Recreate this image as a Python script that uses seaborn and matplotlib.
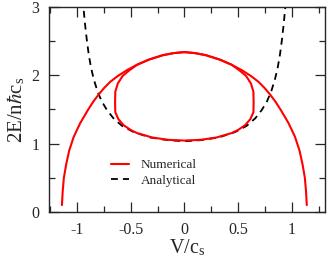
import matplotlib
matplotlib.use("Agg")
import matplotlib.pyplot as plt
from matplotlib.ticker import MultipleLocator
from matplotlib.lines import Line2D
import pandas as pd
import seaborn as sns

# numerical result: outer branch (V/c_s, 2E/nhc_s)
outer_v = [-1.14, -1.133, -1.122, -1.10, -1.072, -1.03, -0.97, -0.895, -0.85, -0.80, -0.75, -0.69, -0.62,
           -0.535, -0.44, -0.33, -0.2, -0.1, 0.0,
           0.1, 0.2, 0.33, 0.44, 0.535, 0.62, 0.69, 0.75, 0.80, 0.85, 0.895, 0.97, 1.03, 1.072, 1.10,
           1.122, 1.133, 1.14]
outer_e = [0.1, 0.3, 0.5, 0.7, 0.9, 1.1, 1.3, 1.5, 1.61, 1.715, 1.81, 1.905, 1.99,
           2.075, 2.155, 2.23, 2.295, 2.325, 2.34,
           2.325, 2.295, 2.23, 2.155, 2.075, 1.99, 1.905, 1.81, 1.715, 1.61, 1.5, 1.3, 1.1, 0.9, 0.7,
           0.5, 0.3, 0.1]

# numerical result: inner closed loop
loop_v = [0.0, -0.1, -0.2, -0.33, -0.44, -0.515, -0.575, -0.62, -0.643, -0.645, -0.643, -0.615, -0.566,
          -0.5, -0.442, -0.3, -0.15, 0.0,
          0.15, 0.3, 0.442, 0.5, 0.566, 0.615, 0.643, 0.645, 0.643, 0.62, 0.575, 0.515, 0.44, 0.33,
          0.2, 0.1, 0.0]
loop_e = [2.34, 2.325, 2.295, 2.23, 2.155, 2.07, 1.99, 1.88, 1.76, 1.6, 1.46, 1.36, 1.27,
          1.2, 1.155, 1.09, 1.055, 1.045,
          1.055, 1.09, 1.155, 1.2, 1.27, 1.36, 1.46, 1.6, 1.76, 1.88, 1.99, 2.07, 2.155, 2.23,
          2.295, 2.325, 2.34]

# analytical curve
ana_v = [-0.948, -0.94, -0.925, -0.907, -0.89, -0.87, -0.845, -0.81, -0.77, -0.72, -0.66, -0.58, -0.474,
         -0.32, -0.15, 0.0,
         0.15, 0.32, 0.474, 0.58, 0.66, 0.72, 0.77, 0.81, 0.845, 0.87, 0.89, 0.907, 0.925, 0.94, 0.948]
ana_e = [3.15, 3.0, 2.75, 2.5, 2.3, 2.12, 1.95, 1.77, 1.62, 1.49, 1.37, 1.26, 1.17,
         1.09, 1.05, 1.035,
         1.05, 1.09, 1.17, 1.26, 1.37, 1.49, 1.62, 1.77, 1.95, 2.12, 2.3, 2.5, 2.75, 3.0, 3.15]

df_outer = pd.DataFrame({'V': outer_v, 'E': outer_e})
df_loop = pd.DataFrame({'V': loop_v, 'E': loop_e})
df_ana = pd.DataFrame({'V': ana_v, 'E': ana_e})

sns.set_style('ticks')
plt.rcParams['font.family'] = ['Liberation Serif', 'DejaVu Serif']
plt.rcParams['mathtext.fontset'] = 'stix'

fig = plt.figure(figsize=(3.27, 2.6), dpi=100)
ax = fig.add_axes([0.150, 0.185, 0.844, 0.788])

dash = (0, (3.8, 2.8))
sns.lineplot(data=df_ana, x='V', y='E', sort=False, estimator=None, color='black',
             linewidth=1.3, linestyle=dash, ax=ax)
sns.lineplot(data=df_outer, x='V', y='E', sort=False, estimator=None, color='red',
             linewidth=1.5, ax=ax)
sns.lineplot(data=df_loop, x='V', y='E', sort=False, estimator=None, color='red',
             linewidth=1.5, ax=ax)

ax.set_xlim(-1.26, 1.31)
ax.set_ylim(0, 3)
ax.xaxis.set_minor_locator(MultipleLocator(0.25))
ax.yaxis.set_major_locator(MultipleLocator(1))
ax.yaxis.set_minor_locator(MultipleLocator(0.5))
ax.set_xticks([-1, -0.5, 0, 0.5, 1])
ax.set_xticklabels(['-1', '-0.5', '0', '0.5', '1'])
ax.tick_params(which='both', direction='in', top=True, right=True, width=0.9, labelsize=11.5, pad=7)
ax.tick_params(which='major', length=7)
ax.tick_params(which='minor', length=4)
for s in ax.spines.values():
    s.set_linewidth(1.0)

ax.set_xlabel(r'V/c$_\mathregular{s}$', fontsize=14.5, labelpad=0)
ax.set_ylabel(r'2E/n$\hbar$c$_\mathregular{s}$', fontsize=15, labelpad=3)

handles = [Line2D([], [], color='red', linewidth=1.5),
           Line2D([], [], color='black', linewidth=1.3, linestyle=dash)]
ax.legend(handles, ['Numerical', 'Analytical'], loc='upper left', bbox_to_anchor=(0.183, 0.315),
          frameon=False, fontsize=9.5, handlelength=1.3, handletextpad=0.9, labelspacing=0.25)

fig.savefig('out.png', dpi=100)
